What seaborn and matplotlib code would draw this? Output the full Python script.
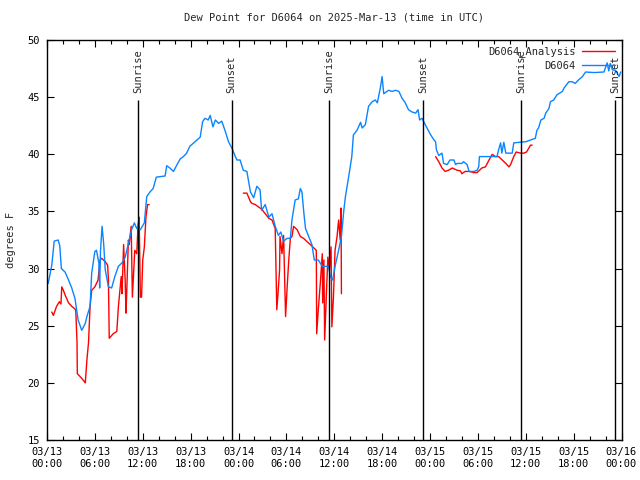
import pandas as pd
import matplotlib
matplotlib.use("Agg")
import matplotlib.pyplot as plt
import matplotlib.dates as mdates
import seaborn as sns

# hours since 2025-03-13 00:00 UTC
obs_hours = [0.15, 0.6, 0.9, 1.4, 1.6, 1.8, 2.26, 2.7, 3.1, 3.5, 3.9, 4.35, 4.8, 5.0, 5.4, 5.6,
             6.0, 6.2, 6.5, 6.6, 6.7, 6.9, 7.1, 7.3, 7.7, 8.1, 8.5, 8.95, 9.4, 9.8, 10.2, 10.6,
             10.95, 11.25, 11.7, 12.2, 12.5, 12.9, 13.3, 13.7, 14.8, 15.0, 15.4, 15.85, 16.3,
             16.7, 17.1, 17.5, 17.9, 18.4, 18.8, 19.2, 19.5, 19.8, 20.2, 20.45, 20.8, 21.1,
             21.5, 21.9, 22.3, 22.75, 23.2, 23.6, 23.8, 24.2, 24.6, 25.05, 25.5, 25.9, 26.3,
             26.7, 26.9, 27.35, 27.8, 28.2, 28.6, 29.0, 29.3, 29.65, 30.1, 30.5, 30.7, 31.1,
             31.5, 31.75, 31.95, 32.2, 32.4, 32.8, 33.2, 33.5, 34.0, 34.5, 35.3, 35.5, 35.8,
             36.1, 36.55, 36.9, 37.2, 37.4, 37.8, 38.2, 38.4, 38.85, 39.3, 39.5, 39.9, 40.3,
             40.75, 41.15, 41.4, 41.8, 42.0, 42.2, 42.6, 42.8, 43.25, 43.7, 44.1, 44.5, 44.9,
             45.3, 45.75, 46.2, 46.5, 46.7, 47.0, 47.4, 48.0, 48.5, 48.7, 48.8, 49.1, 49.5,
             49.7, 50.15, 50.5, 51.0, 51.2, 51.4, 52.0, 52.2, 52.65, 52.9, 53.5, 53.9, 54.1,
             54.2, 56.4, 56.6, 56.85, 57.0, 57.25, 57.5, 58.3, 58.5, 60.0, 60.6, 61.2, 61.4,
             61.6, 61.9, 62.3, 62.5, 62.9, 63.1, 63.5, 63.9, 64.6, 64.8, 65.4, 65.8, 66.2,
             66.6, 67.1, 67.5, 68.6, 69.8, 70.2, 70.4, 70.6, 70.85, 71.3, 71.7, 71.9]
obs_dew = [28.7, 30.3, 32.4, 32.5, 32.0, 30.0, 29.7, 29.0, 28.3, 27.4, 25.5, 24.6, 25.2, 25.8, 26.7, 29.6,
           31.5, 31.6, 30.5, 28.3, 31.5, 33.7, 32.2, 29.9, 28.4, 28.3, 29.3, 30.2, 30.5, 31.0, 32.2, 33.4,
           34.0, 33.5, 33.4, 34.0, 36.3, 36.7, 37.0, 38.0, 38.1, 39.0, 38.8, 38.5, 39.1,
           39.6, 39.8, 40.1, 40.7, 41.0, 41.25, 41.5, 42.85, 43.15, 43.0, 43.4, 42.4, 43.0,
           42.7, 42.9, 42.1, 41.1, 40.5, 39.8, 39.5, 39.5, 38.6, 38.5, 36.7, 36.2, 37.2,
           36.9, 35.1, 35.6, 34.5, 34.8, 33.7, 32.9, 33.2, 32.4, 32.65, 32.65, 34.25, 36.0,
           36.1, 37.0, 36.7, 34.8, 33.5, 32.8, 32.1, 30.75, 30.75, 30.2, 30.2, 29.3, 29.0,
           30.2, 31.6, 32.8, 35.1, 36.3, 38.0, 39.8, 41.7, 42.1, 42.8, 42.3, 42.6, 44.2,
           44.6, 44.75, 44.5, 45.9, 46.8, 45.3, 45.5, 45.6, 45.5, 45.6, 45.5, 44.9, 44.5,
           43.9, 43.7, 43.6, 43.9, 43.0, 43.15, 42.6, 41.8, 41.25, 41.1, 40.4, 39.9, 40.1,
           39.2, 39.1, 39.5, 39.5, 39.1, 39.2, 39.2, 39.35, 39.1, 38.5, 38.5, 38.6, 38.9,
           39.8, 39.8, 40.4, 41.0, 40.1, 41.05, 40.1, 40.1, 41.0, 41.1, 41.25, 41.4, 42.1,
           42.3, 43.0, 43.15, 43.6, 44.0, 44.6, 44.75, 45.2, 45.5, 45.8, 46.35, 46.35, 46.2,
           46.5, 46.8, 47.2, 47.15, 47.2, 48.0, 47.3, 47.95, 47.4, 47.3, 46.8, 47.2]

ana_hours_1 = [0.6, 0.8, 1.2, 1.55, 1.75, 1.85, 2.05, 2.26, 2.7, 3.1, 3.6, 3.76, 3.8, 4.35, 4.8,
               5.0, 5.2, 5.4, 5.6, 6.0, 6.4, 6.65, 6.85, 7.3, 7.6, 7.7, 7.8, 8.3, 8.75, 8.95,
               9.3, 9.4, 9.6, 9.8, 9.9, 10.0, 10.2, 10.3, 10.55, 10.7, 11.0, 11.25, 11.4, 11.55,
               11.7, 11.85, 12.0, 12.2, 12.4, 12.6, 12.8]
ana_dew_1 = [26.2, 25.9, 26.7, 27.1, 26.9, 28.4, 28.1, 27.7, 27.0, 26.7, 26.4, 23.6, 20.8, 20.4, 20.0,
             22.0, 23.5, 26.7, 28.1, 28.4, 29.0, 30.75, 30.9, 30.6, 30.3, 29.0, 23.9, 24.3, 24.5, 26.7,
             29.3, 27.8, 32.1, 28.9, 26.1, 28.1, 32.5, 32.1, 33.7, 27.5, 31.6, 31.3, 33.7, 34.5,
             27.5, 27.5, 30.75, 31.9, 34.5, 35.6, 35.6]

ana_hours_2 = [24.6, 25.05, 25.5, 25.7, 26.1, 26.5, 26.9, 27.35, 27.8, 28.2, 28.6, 28.8, 28.95,
               29.15, 29.2, 29.45, 29.65, 29.9, 30.1, 30.3, 30.5, 30.7, 30.9, 31.35, 31.75, 32.15,
               32.6, 33.0, 33.3, 33.75, 33.8, 34.0, 34.25, 34.5, 34.55, 34.7, 34.8, 35.0, 35.2,
               35.4, 35.6, 35.7, 35.9, 36.1, 36.35, 36.55, 36.75, 36.85, 36.9]
ana_dew_2 = [36.6, 36.6, 35.85, 35.7, 35.6, 35.4, 35.2, 34.8, 34.4, 34.25, 33.5, 26.4, 27.8,
             29.9, 32.8, 31.3, 32.9, 25.8, 28.4, 30.75, 32.65, 32.8, 33.7, 33.4, 32.8, 32.65,
             32.35, 32.1, 31.9, 31.6, 24.3, 26.4, 28.7, 31.3, 27.0, 30.75, 23.75, 27.5, 31.0,
             29.9, 31.9, 24.9, 27.5, 31.6, 32.8, 34.25, 32.5, 35.3, 27.8]

ana_hours_3 = [48.7, 49.1, 49.5, 49.9, 50.3, 50.8, 51.4, 51.8, 52.0, 52.4, 52.9, 53.5, 53.9, 54.5,
               54.95, 55.4, 55.8, 56.2, 56.6, 57.05, 57.5, 57.9, 58.1, 58.5, 58.8, 59.35, 59.75,
               60.1, 60.6, 60.8]
ana_dew_3 = [39.8, 39.35, 38.8, 38.5, 38.6, 38.8, 38.6, 38.55, 38.3, 38.5, 38.5, 38.4, 38.4, 38.8,
             38.9, 39.5, 40.0, 39.8, 39.8, 39.5, 39.2, 38.9, 39.1, 39.8, 40.2, 40.1, 40.1,
             40.2, 40.8, 40.8]

sun_hours = [11.44, 23.14, 35.40, 47.15, 59.40, 71.17]
sun_labels = ["Sunrise", "Sunset", "Sunrise", "Sunset", "Sunrise", "Sunset"]

start = pd.Timestamp("2025-03-13 00:00")


def to_time(hours):
    return start + pd.to_timedelta(hours, unit="h")


sns.set_style("ticks")
plt.rcParams["font.family"] = ["DejaVu Sans Mono"]
plt.rcParams["font.size"] = 7.5

fig = plt.figure(figsize=(6.4, 4.8), dpi=100)
ax = fig.add_axes([47 / 640, 40 / 480, 574.5 / 640, 400 / 480])

red = "#ff0000"
blue = "#0a84ff"

segs = [(ana_hours_1, ana_dew_1), (ana_hours_2, ana_dew_2), (ana_hours_3, ana_dew_3)]
for i, (hh, dd) in enumerate(segs):
    df = pd.DataFrame({"time": to_time(hh), "dew": dd})
    sns.lineplot(data=df, x="time", y="dew", ax=ax, color=red, lw=1,
                 label="D6064_Analysis" if i == 0 else None)

obs = pd.DataFrame({"time": to_time(obs_hours), "dew": obs_dew})
sns.lineplot(data=obs, x="time", y="dew", ax=ax, color=blue, lw=1, label="D6064")

# sunrise / sunset markers
sun_times = to_time(sun_hours)
ax.vlines(sun_times, 15, 44.75, color="black", lw=1)
for t, lab in zip(sun_times, sun_labels):
    ax.text(t, 45.4, lab, rotation=90, ha="center", va="bottom", fontsize=7.5)

ax.set_xlim(start, start + pd.Timedelta(hours=72))
ax.set_ylim(15, 50)
ax.set_yticks(range(15, 51, 5))
ax.xaxis.set_major_locator(mdates.HourLocator(byhour=[0, 6, 12, 18]))
ax.xaxis.set_minor_locator(mdates.HourLocator(interval=2))
ax.xaxis.set_major_formatter(mdates.DateFormatter("%m/%d\n%H:%M"))
ax.tick_params(which="both", direction="in", top=True, right=True, colors="black", width=0.8)
ax.tick_params(which="major", length=5, pad=5)
ax.tick_params(which="minor", length=3)
for lab in ax.get_xticklabels():
    lab.set_horizontalalignment("center")

for s in ax.spines.values():
    s.set_color("black")
    s.set_linewidth(1)

ax.set_xlabel("")
ax.set_ylabel("degrees F", labelpad=8)
ax.set_title("Dew Point for D6064 on 2025-Mar-13 (time in UTC)", fontsize=7.5, pad=14)

ax.legend(loc="upper right", frameon=False, markerfirst=False, handlelength=3.2,
          handletextpad=0.6, borderaxespad=0.2, labelspacing=0.35, fontsize=7.5)

fig.savefig("out.png", dpi=100)
